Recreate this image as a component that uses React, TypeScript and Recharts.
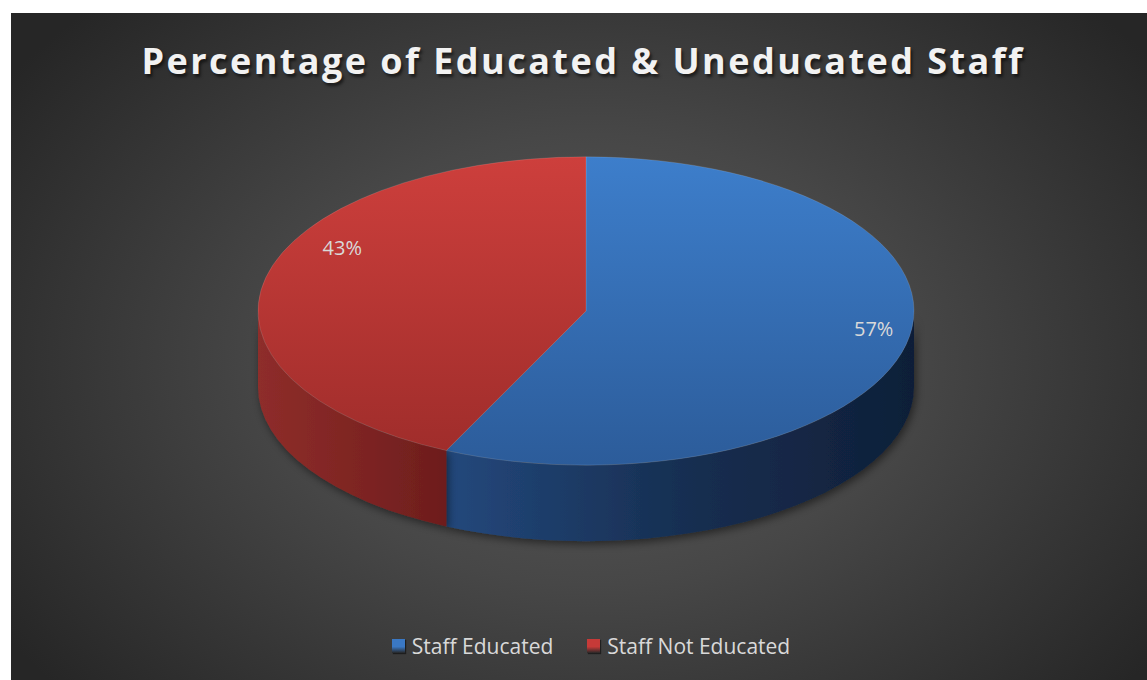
import React from 'react';
import { PieChart, Pie, Legend } from 'recharts';

const TITLE = 'Percentage of Educated & Uneducated Staff';
const categories = ['Staff Educated', 'Staff Not Educated'];
const shares = [57, 43];

const data = categories.map((name, i) => ({ name, value: shares[i], idx: i }));

// colours per slice: top face gradient, side wall gradient, legend marker
const TOP_COLORS = [
  ['#3d7ecb', '#2c5c9a'],
  ['#cd3f3c', '#a02d2b'],
];
const SIDE_COLORS = [
  ['#23487c', '#172f52', '#0f1f38'],
  ['#8e2d2a', '#7f2523', '#6d1d1d'],
];
const LEGEND_COLORS = ['#3a78c4', '#c63a38'];

const W = 1136;
const H = 667;
const TILT = 0.47; // ry / rx of the top face
const DEPTH = 76; // thickness of the disc

const pt = (cx: number, cy: number, rx: number, ry: number, a: number) => {
  const r = (a * Math.PI) / 180;
  return [cx + rx * Math.cos(r), cy - ry * Math.sin(r)];
};

const Slice3D = (props: any) => {
  const { cx, cy, outerRadius, startAngle, endAngle } = props;
  const idx = props.idx ?? props.payload?.idx ?? 0;
  const rx = outerRadius;
  const ry = outerRadius * TILT;
  const hi = Math.max(startAngle, endAngle);
  const lo = Math.min(startAngle, endAngle);

  const [x1, y1] = pt(cx, cy, rx, ry, hi);
  const [x2, y2] = pt(cx, cy, rx, ry, lo);
  const large = hi - lo > 180 ? 1 : 0;
  const top = `M${cx},${cy} L${x1},${y1} A${rx},${ry} 0 ${large} 1 ${x2},${y2} Z`;

  // front (visible) part of the wall: angles where sin < 0
  const sides: string[] = [];
  for (let k = -2; k <= 1; k++) {
    const a = Math.max(lo, -180 + 360 * k);
    const b = Math.min(hi, 360 * k);
    if (b - a > 0.01) {
      const [bx, by] = pt(cx, cy, rx, ry, b);
      const [ax, ay] = pt(cx, cy, rx, ry, a);
      sides.push(
        `M${bx},${by} A${rx},${ry} 0 0 1 ${ax},${ay} L${ax},${ay + DEPTH} A${rx},${ry} 0 0 0 ${bx},${by + DEPTH} Z`
      );
    }
  }

  return (
    <g>
      {sides.map((d, i) => (
        <path key={i} d={d} fill={`url(#side${idx})`} filter="url(#pieShadow)" />
      ))}
      <path d={top} fill={`url(#top${idx})`} stroke="rgba(255,255,255,0.12)" strokeWidth={1} />
    </g>
  );
};

const renderLabel = (props: any) => {
  const { cx, cy, midAngle, outerRadius, percent } = props;
  const r = (midAngle * Math.PI) / 180;
  const x = cx + 22 + outerRadius * 0.83 * Math.cos(r);
  const y = cy - 23 - outerRadius * TILT * 1.2 * Math.sin(r);
  return (
    <text x={x} y={y} fill="#d9d9d9" fontSize={20} textAnchor="middle" dominantBaseline="central"
      fontFamily='"Open Sans", sans-serif'>
      {`${Math.round(percent * 100)}%`}
    </text>
  );
};

const renderLegend = () => (
  <div style={{ display: 'flex', justifyContent: 'center', gap: 34, fontFamily: '"Open Sans", sans-serif', paddingLeft: 24 }}>
    {categories.map((c, i) => (
      <div key={c} style={{ display: 'flex', alignItems: 'center', color: '#d9d9d9', fontSize: 21 }}>
        <span
          style={{
            display: 'inline-block',
            width: 13,
            height: 14,
            marginRight: 7,
            background: `linear-gradient(180deg, ${LEGEND_COLORS[i]} 0%, ${LEGEND_COLORS[i]} 55%, rgba(0,0,0,0.35) 100%)`,
            boxShadow: '1px 1px 1px rgba(0,0,0,0.5)',
          }}
        />
        {c}
      </div>
    ))}
  </div>
);

export default function App() {
  return (
    <div
      style={{
        position: 'absolute',
        left: 11,
        top: 13,
        width: W,
        height: H,
        overflow: 'hidden',
        background: 'radial-gradient(ellipse 62% 75% at 51% 52%, #5b5b5b 0%, #474747 45%, #262626 100%)',
      }}
    >
      <div
        style={{
          position: 'absolute',
          top: 23,
          left: 4,
          width: W,
          textAlign: 'center',
          fontFamily: '"Open Sans", sans-serif',
          fontSize: 36,
          fontWeight: 700,
          letterSpacing: 2.45,
          color: '#f2f2f2',
          textShadow: '2px 3px 3px rgba(0,0,0,0.55)',
          lineHeight: 'normal',
        }}
      >
        {TITLE}
      </div>
      <div style={{ position: 'absolute', left: 0, top: 0 }}>
        <PieChart width={W} height={H} margin={{ top: 0, right: 0, bottom: 0, left: 0 }}>
          <defs>
            {TOP_COLORS.map((c, i) => (
              <linearGradient key={`t${i}`} id={`top${i}`} x1="0" y1="0" x2="0" y2="1">
                <stop offset="0%" stopColor={c[0]} />
                <stop offset="100%" stopColor={c[1]} />
              </linearGradient>
            ))}
            {SIDE_COLORS.map((c, i) => (
              <linearGradient key={`s${i}`} id={`side${i}`} x1="0" y1="0" x2="1" y2="0">
                <stop offset="0%" stopColor={c[0]} />
                <stop offset="50%" stopColor={c[1]} />
                <stop offset="100%" stopColor={c[2]} />
              </linearGradient>
            ))}
            <filter id="pieShadow" x="-20%" y="-20%" width="140%" height="160%">
              <feDropShadow dx="2" dy="3" stdDeviation="4" floodColor="#000" floodOpacity="0.5" />
            </filter>
          </defs>
          <Pie
            data={data}
            dataKey="value"
            nameKey="name"
            cx={575}
            cy={298}
            outerRadius={328}
            startAngle={90}
            endAngle={-270}
            stroke="none"
            shape={Slice3D}
            activeShape={Slice3D}
            inactiveShape={Slice3D}
            label={renderLabel}
            labelLine={false}
            isAnimationActive={false}
          />
          <Legend content={renderLegend} verticalAlign="bottom" wrapperStyle={{ bottom: 20 }} />
        </PieChart>
      </div>
    </div>
  );
}
